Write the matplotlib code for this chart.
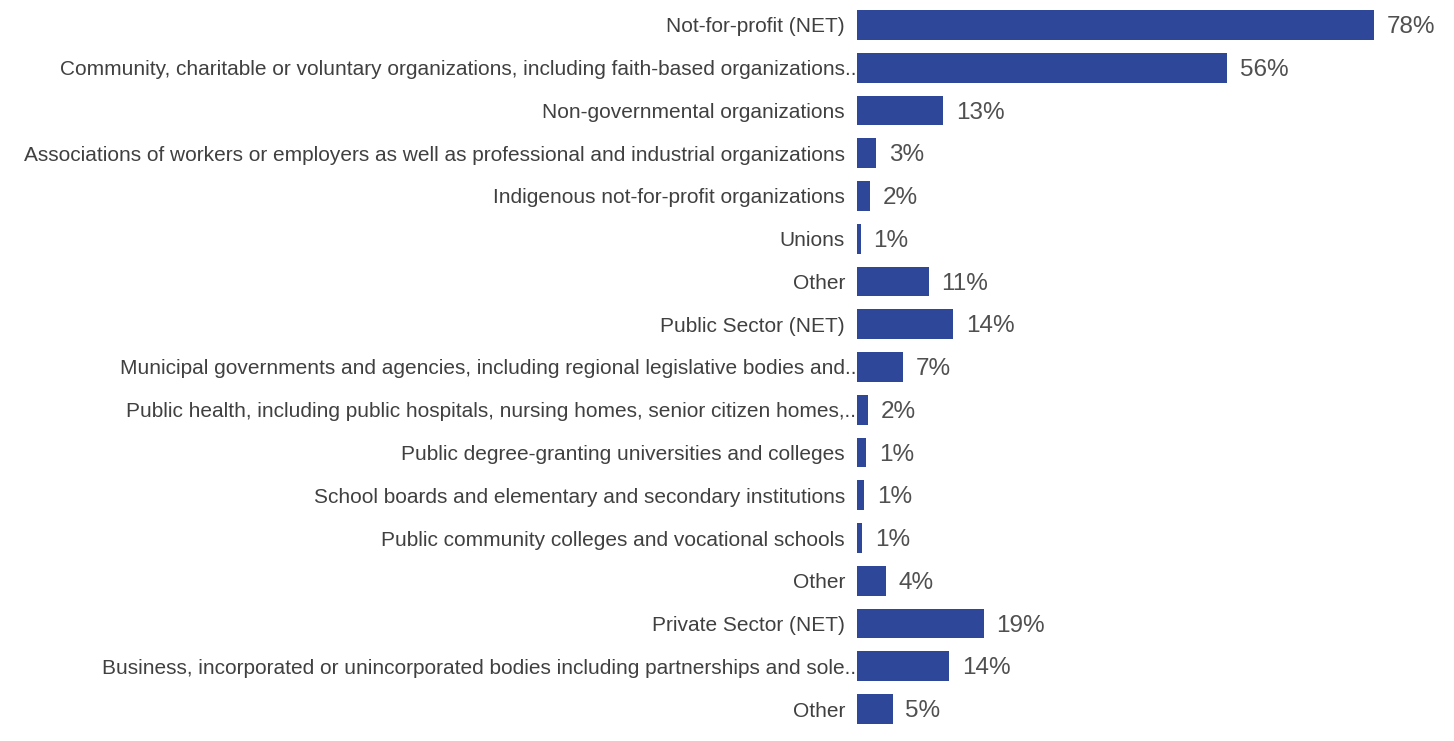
import matplotlib.pyplot as plt
from matplotlib.transforms import blended_transform_factory, offset_copy

plt.rcParams['font.family'] = ['Liberation Sans', 'DejaVu Sans']

# categories, top to bottom (truncated ones end with "..")
labels = [
    "Not-for-profit (NET)",
    "Community, charitable or voluntary organizations, including faith-based organizations..",
    "Non-governmental organizations",
    "Associations of workers or employers as well as professional and industrial organizations",
    "Indigenous not-for-profit organizations",
    "Unions",
    "Other",
    "Public Sector (NET)",
    "Municipal governments and agencies, including regional legislative bodies and..",
    "Public health, including public hospitals, nursing homes, senior citizen homes,..",
    "Public degree-granting universities and colleges",
    "School boards and elementary and secondary institutions",
    "Public community colleges and vocational schools",
    "Other",
    "Private Sector (NET)",
    "Business, incorporated or unincorporated bodies including partnerships and sole..",
    "Other",
]
values = [77.9, 55.7, 13.0, 2.9, 2.0, 0.6, 10.8, 14.5, 6.9, 1.7, 1.4, 1.1, 0.8, 4.4, 19.1, 13.9, 5.4]
value_labels = ["78%", "56%", "13%", "3%", "2%", "1%", "11%", "14%", "7%", "2%",
                "1%", "1%", "1%", "4%", "19%", "14%", "5%"]

bar_color = "#2F4799"
text_color = "#404040"

fig = plt.figure(figsize=(14.54, 7.41), dpi=100)
ax = fig.add_axes([857 / 1454, 10.6 / 741, 597 / 1454, 726.8 / 741])

ypos = list(range(len(labels)))
ax.barh(ypos, values, height=0.7, color=bar_color, zorder=2)
for y, v, t in zip(ypos, values, value_labels):
    ax.text(v + 1.9, y + 0.05, t, va='center', ha='left', fontsize=17.5, color="#505050")

# category labels drawn as text so truncated ones can run up to the bar
trans = blended_transform_factory(ax.transAxes, ax.transData)
for y, lab in zip(ypos, labels):
    shift = -1 if lab.endswith("..") else -12
    tr = offset_copy(trans, fig=fig, x=shift, y=0, units='dots')
    ax.text(0, y, lab, transform=tr, ha='right', va='center_baseline', fontsize=15,
            color=text_color, zorder=1, clip_on=False)

ax.set_yticks([])
ax.set_xticks([])
ax.set_xlim(0, 89.9)
ax.set_ylim(len(labels) - 0.5, -0.5)
for s in ax.spines.values():
    s.set_visible(False)

fig.savefig("out.png", dpi=100)
